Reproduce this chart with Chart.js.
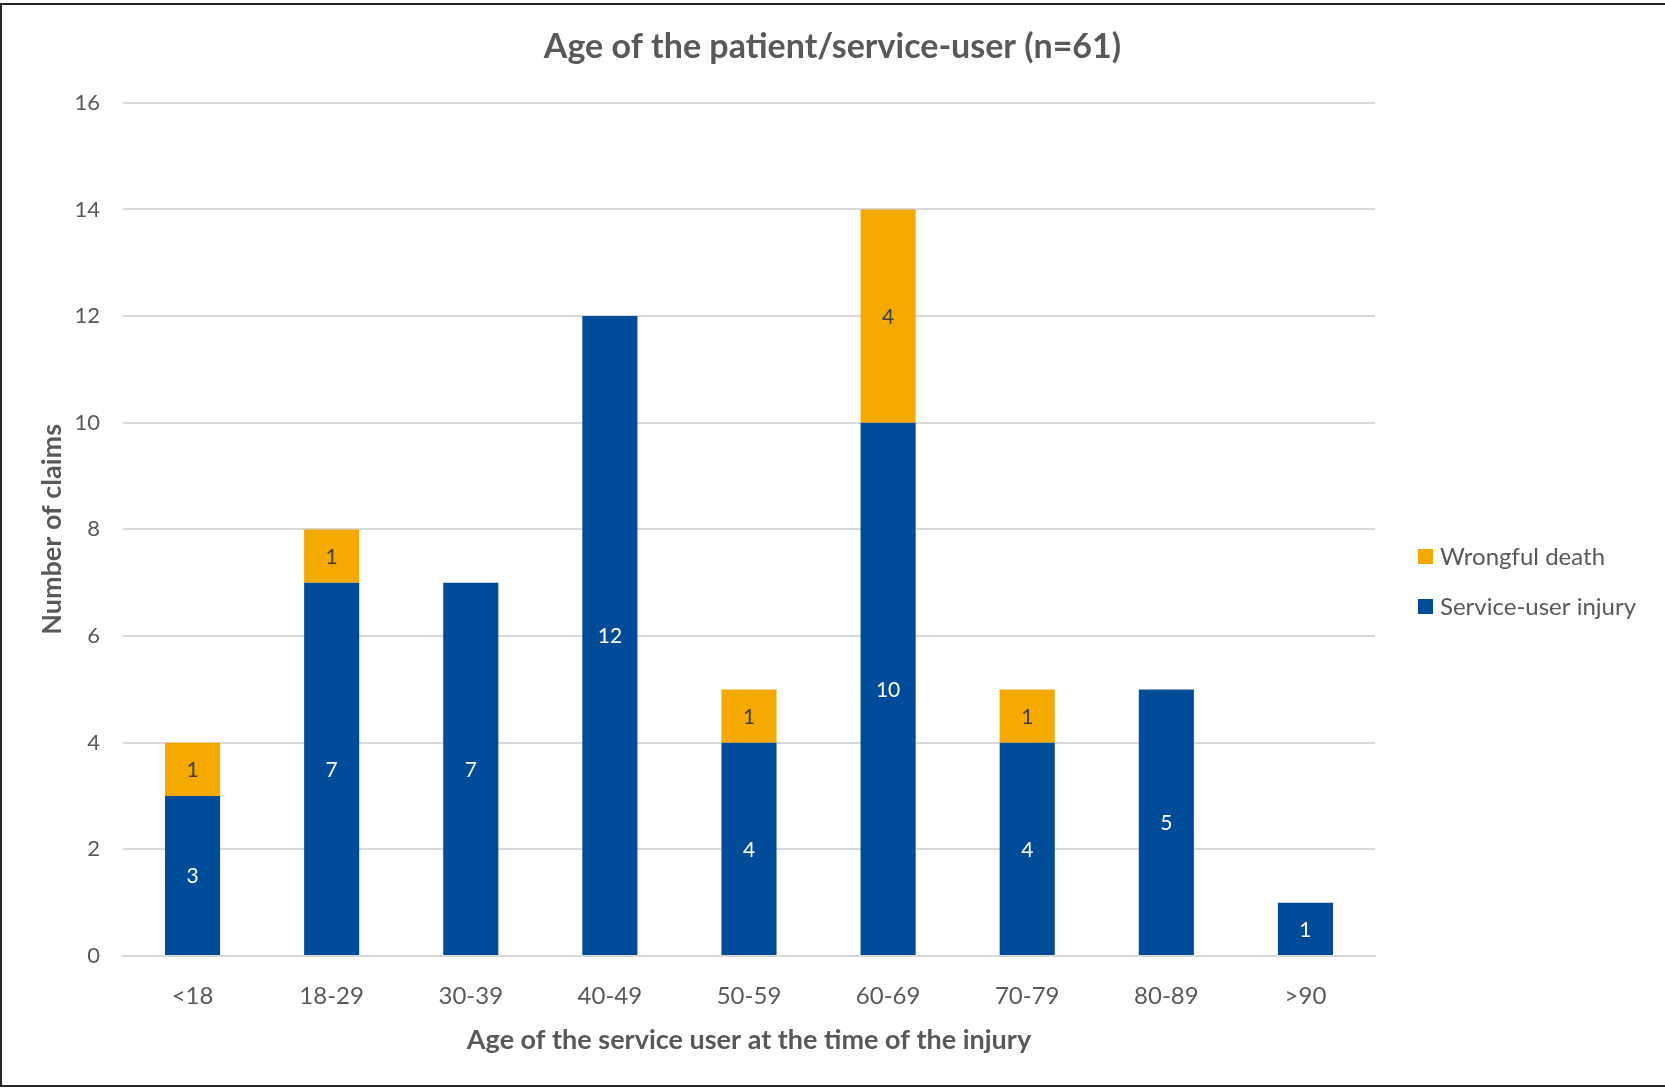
<!DOCTYPE html>
<html>
<head>
<meta charset="utf-8">
<script src="https://cdn.jsdelivr.net/npm/chart.js@4.4.1/dist/chart.umd.min.js"></script>
<style>
  html, body { margin: 0; padding: 0; background: #ffffff; }
  #wrap { width: 1665px; height: 1089px; position: relative; }
</style>
</head>
<body>
<div id="wrap"><canvas id="ageChart" width="1665" height="1089"></canvas></div>
<script>
// Tranches d'âge et nombre de réclamations
const ageGroups = ['<18', '18-29', '30-39', '40-49', '50-59', '60-69', '70-79', '80-89', '>90'];
const serviceUserInjury = [3, 7, 7, 12, 4, 10, 4, 5, 1];
const wrongfulDeath = [1, 1, null, null, 1, 4, 1, null, null];
const yTicks = [0, 2, 4, 6, 8, 10, 12, 14, 16];

const FONT = 'Lato, Carlito, Calibri, "Open Sans", sans-serif';
const TEXT_COLOR = '#595959';
const GRID_COLOR = '#d9d9d9';
const BLUE = '#004c99';
const ORANGE = '#f4a900';

// Étiquettes de valeur au centre de chaque segment
const segmentLabels = {
    id: 'segmentLabels',
    afterDatasetsDraw(chart) {
        const ctx = chart.ctx;
        ctx.save();
        ctx.font = '21px ' + FONT;
        ctx.textAlign = 'center';
        ctx.textBaseline = 'middle';
        chart.data.datasets.forEach((ds, di) => {
            const meta = chart.getDatasetMeta(di);
            meta.data.forEach((bar, i) => {
                const v = ds.data[i];
                if (v === null || v === undefined) return;
                ctx.fillStyle = ds.labelColor;
                ctx.fillText(String(v), bar.x, (bar.y + bar.base) / 2 + 1);
            });
        });
        ctx.restore();
    }
};

// Légende à droite (ordre inversé comme dans la pile)
const sideLegend = {
    id: 'sideLegend',
    afterDraw(chart) {
        const ctx = chart.ctx;
        const items = chart.data.datasets.slice().reverse();
        ctx.save();
        ctx.font = '24px ' + FONT;
        ctx.textBaseline = 'middle';
        items.forEach((ds, i) => {
            const y = 556 + i * 50;
            ctx.fillStyle = ds.backgroundColor;
            ctx.fillRect(1418, y - 7, 15, 15);
            ctx.fillStyle = TEXT_COLOR;
            ctx.fillText(ds.label, 1440, y + 1);
        });
        ctx.restore();
    }
};

// Cadre autour du graphique
const frame = {
    id: 'frame',
    beforeDraw(chart) {
        const ctx = chart.ctx;
        ctx.save();
        ctx.fillStyle = '#ffffff';
        ctx.fillRect(0, 0, chart.width, chart.height);
        ctx.restore();
    },
    afterDraw(chart) {
        const ctx = chart.ctx;
        ctx.save();
        ctx.strokeStyle = '#262626';
        ctx.lineWidth = 2;
        ctx.strokeRect(1, 4, chart.width + 4, chart.height - 7);
        ctx.restore();
    }
};

const ctx = document.getElementById('ageChart').getContext('2d');
new Chart(ctx, {
    type: 'bar',
    data: {
        labels: ageGroups,
        datasets: [
            {
                label: 'Service-user injury',
                data: serviceUserInjury,
                backgroundColor: BLUE,
                labelColor: '#ffffff',
                borderWidth: 0
            },
            {
                label: 'Wrongful death',
                data: wrongfulDeath,
                backgroundColor: ORANGE,
                labelColor: '#404040',
                borderWidth: 0
            }
        ]
    },
    options: {
        responsive: false,
        animation: false,
        devicePixelRatio: 1,
        layout: { padding: 0 },
        datasets: { bar: { categoryPercentage: 1, barPercentage: 0.396 } },
        plugins: {
            legend: { display: false },
            tooltip: { enabled: false },
            title: {
                display: true,
                text: 'Age of the patient/service-user (n=61)',
                color: TEXT_COLOR,
                font: { family: FONT, size: 34, weight: 'bold', lineHeight: 1.2 },
                padding: { top: 27, bottom: 35 }
            }
        },
        scales: {
            x: {
                stacked: true,
                grid: { display: false, drawTicks: false },
                border: { display: true, color: GRID_COLOR, width: 2 },
                ticks: {
                    color: TEXT_COLOR,
                    font: { family: FONT, size: 24 },
                    padding: 26,
                    maxRotation: 0
                },
                title: {
                    display: true,
                    text: 'Age of the service user at the time of the injury',
                    color: TEXT_COLOR,
                    font: { family: FONT, size: 27, weight: 'bold', lineHeight: 1.2 },
                    padding: { top: 4, bottom: 33 }
                },
                afterFit(scale) { scale.height = 133; }
            },
            y: {
                stacked: true,
                min: 0,
                max: 16,
                afterBuildTicks(scale) { scale.ticks = yTicks.map(v => ({ value: v })); },
                grid: { color: GRID_COLOR, lineWidth: 2, drawTicks: false },
                border: { display: false },
                ticks: {
                    color: TEXT_COLOR,
                    font: { family: FONT, size: 22 },
                    padding: 23
                },
                title: {
                    display: true,
                    text: 'Number of claims',
                    color: TEXT_COLOR,
                    font: { family: FONT, size: 27, weight: 'bold', lineHeight: 1.2 },
                    padding: { top: 36, bottom: 4 }
                },
                afterFit(scale) { scale.width = 123; }
            },
            // axe vide à droite : réserve la place de la légende
            legendSpace: {
                type: 'linear',
                position: 'right',
                display: true,
                grid: { display: false, drawTicks: false },
                border: { display: false },
                ticks: { display: false },
                afterFit(scale) { scale.width = 290; }
            }
        }
    },
    plugins: [frame, segmentLabels, sideLegend]
});
</script>
</body>
</html>
